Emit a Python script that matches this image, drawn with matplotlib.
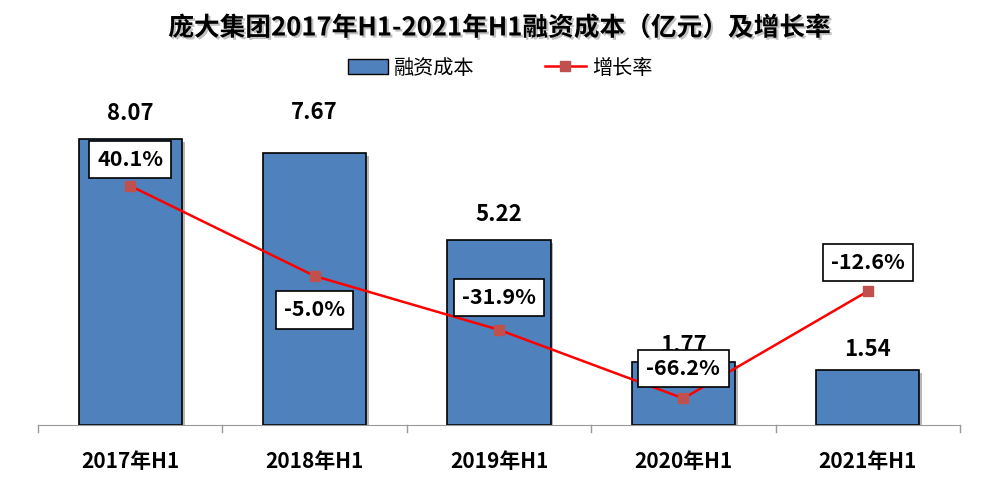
import matplotlib
matplotlib.use('Agg')
import matplotlib.pyplot as plt
import matplotlib.patheffects as pe
from matplotlib.lines import Line2D
from matplotlib.patches import Patch
import numpy as np

plt.rcParams['font.family'] = ['Noto Sans CJK SC', 'DejaVu Sans']

# data
periods = ['2017年H1', '2018年H1', '2019年H1', '2020年H1', '2021年H1']
cost = [8.07, 7.67, 5.22, 1.77, 1.54]
growth = [40.1, -5.0, -31.9, -66.2, -12.6]

# label placement (pixels above/below the mark), as in the source chart
cost_lab_off = [26, 41, 26, 17, 21]
growth_lab_off = [26, -34, 32, 30, 29]

bar_color = '#4F81BD'
line_color = '#FF0000'
marker_color = '#C0504D'

fig = plt.figure(figsize=(10, 5), dpi=100)
ax = fig.add_axes([0.038, 0.15, 0.922, 0.638])
x = np.arange(len(periods))

shadow = [pe.SimplePatchShadow(offset=(2, -2), shadow_rgbFace='#888888', alpha=0.6), pe.Normal()]
bars = ax.bar(x, cost, width=0.56, color=bar_color, edgecolor='black', linewidth=1.2, zorder=2)
for b in bars:
    b.set_path_effects(shadow)
for xi, v, off in zip(x, cost, cost_lab_off):
    ax.annotate('%.2f' % v, (xi, v), xytext=(0, off * 0.72), textcoords='offset points',
                ha='center', va='center', fontsize=16, fontweight='bold', zorder=5)

ax.set_xlim(-0.5, len(periods) - 0.5)
ax.set_ylim(0, 9.01)
ax.set_yticks([])
for s in ['left', 'right', 'top']:
    ax.spines[s].set_visible(False)
ax.spines['bottom'].set_color('#999999')
ax.set_xticks(x)
ax.set_xticklabels(periods, fontsize=15, fontweight='bold')
ax.tick_params(axis='x', length=0, pad=19)
# boundary tick marks
for bx in np.arange(-0.5, len(periods), 1.0):
    ax.plot([bx, bx], [0, -0.2], color='#999999', lw=1, clip_on=False)

ax2 = ax.twinx()
ax2.set_ylim(-79.5, 80)
ax2.axis('off')
ax2.plot(x, growth, color=line_color, lw=1.8, marker='s', markersize=7,
         markerfacecolor=marker_color, markeredgecolor=marker_color, zorder=3)
for xi, g, off in zip(x, growth, growth_lab_off):
    ax2.annotate('%.1f%%' % g, (xi, g), xytext=(0, off * 0.72), textcoords='offset points',
                 ha='center', va='center', fontsize=15.5, fontweight='bold', zorder=6,
                 bbox=dict(boxstyle='square,pad=0.38', fc='white', ec='black', lw=1.2))

fig.text(0.5, 0.944, '庞大集团2017年H1-2021年H1融资成本（亿元）及增长率', ha='center', va='center',
         fontsize=18.5, fontweight='bold',
         path_effects=[pe.withSimplePatchShadow(offset=(1.5, -1.5), shadow_rgbFace='#999999', alpha=0.6)])

handles = [Patch(facecolor=bar_color, edgecolor='black', label='融资成本'),
           Line2D([0], [0], color=line_color, lw=1.8, marker='s', markersize=7,
                  markerfacecolor=marker_color, markeredgecolor=marker_color, label='增长率')]
fig.legend(handles=handles, loc='center', bbox_to_anchor=(0.5, 0.864), ncol=2, frameon=False,
           fontsize=14.5, handlelength=2.0, columnspacing=3.5, handletextpad=0.3)

fig.savefig('out.png', dpi=100)
